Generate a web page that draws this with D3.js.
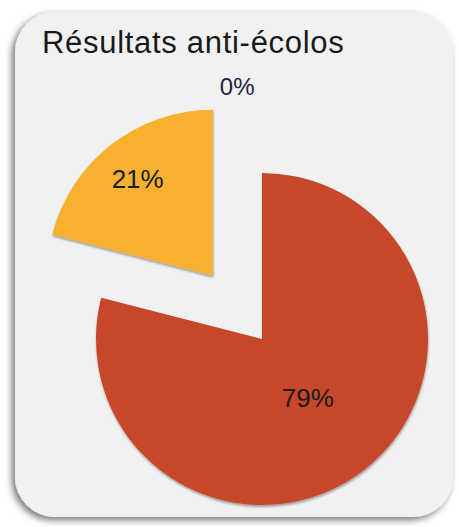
<!DOCTYPE html>
<html>
<head>
<meta charset="utf-8">
<script src="https://cdn.jsdelivr.net/npm/d3@7"></script>
<style>
  html, body { margin: 0; padding: 0; background: #ffffff; }
  svg { display: block; }
</style>
</head>
<body>
<svg id="chart" width="459" height="527"></svg>
<script>
// chart data
var title = "Résultats anti-écolos";
var labels = ["Pour", "Contre", "Sans avis"];
var values = [79, 21, 0];
var sliceColors = ["#c6462a", "#f8b12d", "#8aa0c8"];

var svg = d3.select("#chart");

// filters: card shadow and slice shadow
var defs = svg.append("defs");
var cardShadow = defs.append("filter").attr("id", "cardShadow")
    .attr("x", "-10%").attr("y", "-10%").attr("width", "120%").attr("height", "120%");
cardShadow.append("feDropShadow")
    .attr("dx", -3).attr("dy", 3).attr("stdDeviation", 3.5)
    .attr("flood-color", "#000").attr("flood-opacity", 0.55);

var sliceShadow = defs.append("filter").attr("id", "sliceShadow")
    .attr("x", "-10%").attr("y", "-10%").attr("width", "120%").attr("height", "120%");
sliceShadow.append("feDropShadow")
    .attr("dx", 0.5).attr("dy", 2).attr("stdDeviation", 1.2)
    .attr("flood-color", "#000").attr("flood-opacity", 0.35);

// card background
svg.append("rect")
    .attr("x", 15).attr("y", 12)
    .attr("width", 438).attr("height", 505)
    .attr("rx", 40).attr("ry", 40)
    .style("fill", "#f1f1f1")
    .style("filter", "url(#cardShadow)");

// title
svg.append("text")
    .attr("x", 42).attr("y", 53)
    .text(title)
    .style("font-family", "Liberation Sans, Arial, sans-serif")
    .style("font-size", "31px")
    .style("letter-spacing", "0.7px")
    .style("fill", "#1a1a1a");

// pie
var cx = 262, cy = 339, radius = 166;
var explode = 80;

var pie = d3.pie().sort(null).value(function(d) { return d; });
var arcs = pie(values);
var arc = d3.arc().innerRadius(0).outerRadius(radius);

var g = svg.append("g").attr("transform", "translate(" + cx + "," + cy + ")");

// only the yellow slice is pulled out
function offset(d, i) {
    if (i != 1) return [0, 0];
    var a = (d.startAngle + d.endAngle) / 2;
    return [Math.sin(a) * explode, -Math.cos(a) * explode];
}

g.selectAll("path.slice")
    .data(arcs)
    .enter().append("path")
    .attr("class", "slice")
    .attr("d", arc)
    .attr("transform", function(d, i) {
        var o = offset(d, i);
        return "translate(" + o[0] + "," + o[1] + ")";
    })
    .style("fill", function(d, i) { return sliceColors[i]; })
    .style("filter", "url(#sliceShadow)");

// labels
var labelRadius = [0.45, 0.74, 1.53];
function labelAngle(d, i) {
    if (i == 2) return d.endAngle - 0.098;
    return (d.startAngle + d.endAngle) / 2;
}
g.selectAll("text.lab")
    .data(arcs)
    .enter().append("text")
    .attr("class", "lab")
    .attr("x", function(d, i) {
        return offset(d, i)[0] + Math.sin(labelAngle(d, i)) * radius * labelRadius[i];
    })
    .attr("y", function(d, i) {
        return offset(d, i)[1] - Math.cos(labelAngle(d, i)) * radius * labelRadius[i];
    })
    .attr("text-anchor", "middle")
    .attr("dominant-baseline", "central")
    .text(function(d) { return Math.round(d.value) + "%"; })
    .style("font-family", "Liberation Sans, Arial, sans-serif")
    .style("font-size", function(d, i) { return i == 2 ? "24px" : "26px"; })
    .style("fill", function(d, i) { return i == 2 ? "#1c2340" : "#1a1a1a"; });
</script>
</body>
</html>
